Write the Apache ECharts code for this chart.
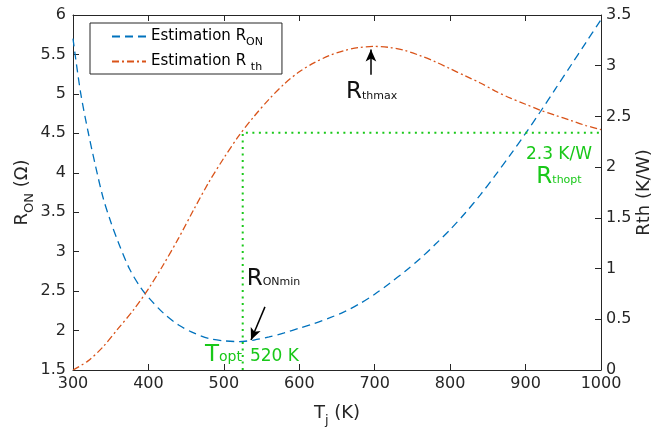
<!DOCTYPE html>
<html><head><meta charset="utf-8">
<script src="https://cdn.jsdelivr.net/npm/echarts@6/dist/echarts.min.js"></script>
<style>html,body{margin:0;padding:0;background:#fff}#c{width:651px;height:430px}</style>
</head><body><div id="c"></div>
<script>
// Junction temperature (K) and on-resistance estimate (Ω)
const tjRon = [300,310,320,330,340,350,360,375,390,400,420,440,460,480,500,520,540,560,580,600,620,640,660,680,700,720,740,760,780,800,820,840,860,880,900,920,940,960,980,1000];
const ron   = [5.70,5.02,4.52,4.08,3.68,3.38,3.12,2.78,2.54,2.42,2.22,2.07,1.97,1.90,1.87,1.86,1.88,1.92,1.97,2.03,2.09,2.16,2.24,2.34,2.46,2.60,2.75,2.91,3.09,3.28,3.49,3.72,3.97,4.23,4.50,4.78,5.07,5.36,5.65,5.94];
// Junction temperature (K) and thermal resistance estimate (K/W)
const tjRth = [300,320,340,360,380,400,420,440,460,480,500,520,540,560,580,600,620,640,660,680,700,720,740,760,780,800,820,840,860,880,900,920,940,960,980,1000];
const rth   = [0.00,0.09,0.23,0.41,0.59,0.80,1.04,1.30,1.58,1.85,2.09,2.31,2.50,2.67,2.82,2.94,3.03,3.10,3.15,3.18,3.19,3.18,3.15,3.10,3.04,2.97,2.90,2.83,2.75,2.68,2.62,2.56,2.51,2.46,2.41,2.37];
// optimum guide (Topt, Rthopt)
const optT = [525, 525, 1000];
const optR = [0, 2.34, 2.34];
const xTicks = [300, 1000, 100];
const yLeft = [1.5, 6, 0.5];
const yRight = [0, 3.5, 0.5];

const FONT = 'DejaVu Sans';
const AX = '#262626';
const GREEN = '#19c819';
const chart = echarts.init(document.getElementById('c'), null, {renderer: 'canvas'});

const fmt = v => String(v);
const axisCommon = {
  axisLine: {show: true, lineStyle: {color: AX, width: 1}},
  axisTick: {show: true, inside: true, length: 6, lineStyle: {color: AX}},
  splitLine: {show: false},
  axisLabel: {fontSize: 16, color: AX, fontFamily: FONT, formatter: fmt}
};

chart.setOption({
  animation: false,
  textStyle: {fontFamily: FONT},
  grid: {left: 73, right: 50, top: 15, bottom: 60, containLabel: false, outerBoundsMode: 'none'},
  legend: {
    data: ['RON', 'Rth'], orient: 'vertical', left: 90, top: 23,
    borderColor: AX, borderWidth: 1, backgroundColor: '#fff',
    padding: [6, 19, 1, 21], itemGap: 6, itemWidth: 34, itemHeight: 14,
    itemStyle: {opacity: 0},
    formatter: n => n === 'RON' ? '{m|Estimation R}{s|ON}' : '{m|Estimation R }{s|th}',
    textStyle: {color: '#000', fontSize: 15, rich: {
      m: {fontSize: 15, color: '#000', fontFamily: FONT},
      s: {fontSize: 11, color: '#000', fontFamily: FONT, padding: [12, 0, 0, 0]}
    }}
  },
  xAxis: [
    Object.assign({}, axisCommon, {type: 'value', position: 'bottom', min: xTicks[0], max: xTicks[1], interval: xTicks[2],
      axisLabel: Object.assign({}, axisCommon.axisLabel, {margin: 6}),
      name: '{m|T}{s|j}{m| (K)}', nameLocation: 'middle', nameGap: 30,
      nameTextStyle: {rich: {m: {fontSize: 18, color: AX, fontFamily: FONT}, s: {fontSize: 13, color: AX, fontFamily: FONT, padding: [14, 0, 0, 0]}}}}),
    Object.assign({}, axisCommon, {type: 'value', position: 'top', min: xTicks[0], max: xTicks[1], interval: xTicks[2],
      axisLabel: {show: false}})
  ],
  yAxis: [
    Object.assign({}, axisCommon, {type: 'value', position: 'left', min: yLeft[0], max: yLeft[1], interval: yLeft[2],
      axisLabel: Object.assign({}, axisCommon.axisLabel, {margin: 7}),
      name: '{m|R}{s|ON}{m| (Ω)}', nameLocation: 'middle', nameGap: 37, nameRotate: 90, nameMoveOverlap: false,
      nameTextStyle: {rich: {m: {fontSize: 18, color: AX, fontFamily: FONT}, s: {fontSize: 13, color: AX, fontFamily: FONT, padding: [14, 0, 0, 0]}}}}),
    Object.assign({}, axisCommon, {type: 'value', position: 'right', min: yRight[0], max: yRight[1], interval: yRight[2],
      axisLabel: Object.assign({}, axisCommon.axisLabel, {margin: 5}),
      name: 'Rth (K/W)', nameLocation: 'middle', nameGap: 34, nameRotate: 90, nameMoveOverlap: false,
      nameTextStyle: {fontSize: 18, color: AX, fontFamily: FONT}})
  ],
  series: [
    {name: 'RON', type: 'line', xAxisIndex: 0, yAxisIndex: 0, smooth: 0.3, symbol: 'none',
     data: tjRon.map((t, i) => [t, ron[i]]),
     itemStyle: {color: '#0072BD'},
     lineStyle: {color: '#0072BD', width: 1.3, type: [8, 5]},
     markLine: {silent: true, symbol: ['none', 'arrow'], symbolSize: [8, 12],
       label: {show: false}, lineStyle: {color: '#000', type: 'solid', width: 1.5},
       data: [[{coord: [554.5, 2.30]}, {coord: [536, 1.88]}]]}},
    {name: 'Rth', type: 'line', xAxisIndex: 0, yAxisIndex: 1, smooth: 0.3, symbol: 'none',
     data: tjRth.map((t, i) => [t, rth[i]]),
     itemStyle: {color: '#D95319'},
     lineStyle: {color: '#D95319', width: 1.3, type: [7, 3, 2, 3]},
     markLine: {silent: true, symbol: ['none', 'arrow'], symbolSize: [8, 12],
       label: {show: false}, lineStyle: {color: '#000', type: 'solid', width: 1.5},
       data: [[{coord: [695, 2.91]}, {coord: [695, 3.16]}]]}},
    {name: 'opt', type: 'line', xAxisIndex: 0, yAxisIndex: 1, symbol: 'none',
     data: optT.map((t, i) => [t, optR[i]]),
     lineStyle: {color: GREEN, width: 2, type: [2, 4.5]}}
  ]
});

function px(t, v, yi) { return chart.convertToPixel({xAxisIndex: 0, yAxisIndex: yi}, [t, v]); }
const big = {fontSize: 23, fontFamily: FONT};
const p1 = px(662, 2.736, 1), p2 = px(530.3, 2.656, 0), p3 = px(475, 1.695, 0),
      p4 = px(944.3, 2.125, 1), p5 = px(944.3, 1.903, 1);
chart.setOption({graphic: [
  {type: 'text', x: p1[0], y: p1[1], style: {text: '{a|R}{b|thmax}', verticalAlign: 'middle', align: 'left',
    rich: {a: Object.assign({fill: '#111'}, big), b: {fontSize: 11, fontFamily: FONT, fill: '#111', padding: [7, 0, 0, 0]}}}},
  {type: 'text', x: p2[0], y: p2[1], style: {text: '{a|R}{b|ONmin}', verticalAlign: 'middle', align: 'left',
    rich: {a: Object.assign({fill: '#111'}, big), b: {fontSize: 11, fontFamily: FONT, fill: '#111', padding: [7, 0, 0, 0]}}}},
  {type: 'text', x: p3[0], y: p3[1], style: {text: '{a|T}{b|opt}{c|520 K}', verticalAlign: 'middle', align: 'left',
    rich: {a: Object.assign({fill: GREEN}, big), b: {fontSize: 14, fontFamily: FONT, fill: GREEN, padding: [6, 0, 0, 0]},
           c: {fontSize: 17, fontFamily: FONT, fill: GREEN, padding: [3, 0, 0, 8]}}}},
  {type: 'text', x: p4[0], y: p4[1], style: {text: '2.3 K/W', verticalAlign: 'middle', align: 'center',
    fontSize: 17, fontFamily: FONT, fill: GREEN}},
  {type: 'text', x: p5[0], y: p5[1], style: {text: '{a|R}{b|thopt}', verticalAlign: 'middle', align: 'center',
    rich: {a: Object.assign({fill: GREEN}, big), b: {fontSize: 11, fontFamily: FONT, fill: GREEN, padding: [7, 0, 0, 0]}}}}
]});
</script></body></html>
